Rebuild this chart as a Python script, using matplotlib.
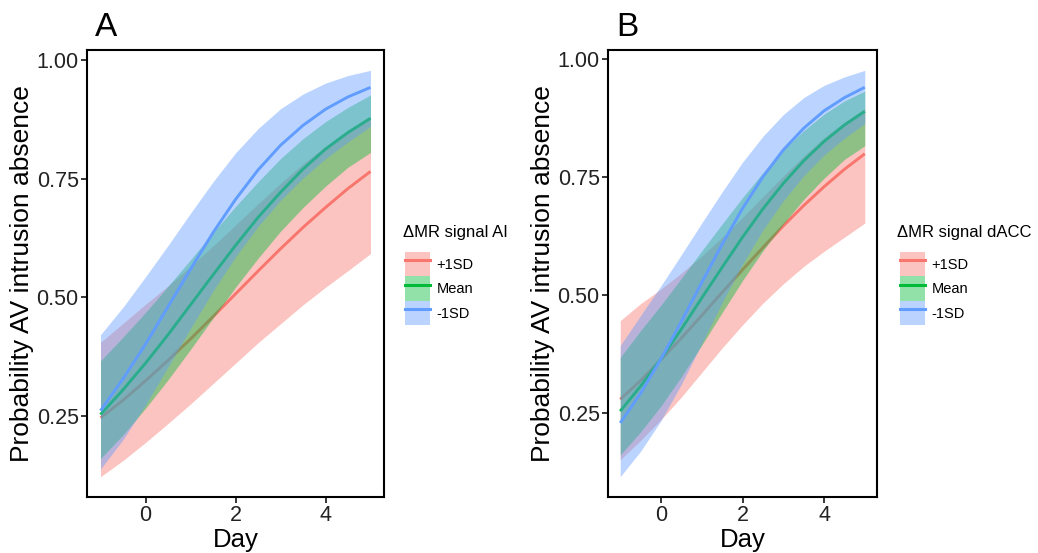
import matplotlib
matplotlib.use("Agg")
import matplotlib.pyplot as plt
from matplotlib.patches import Patch
from matplotlib.lines import Line2D

plt.rcParams['font.family'] = ['Liberation Sans', 'DejaVu Sans']

# predicted probabilities at these days
day = [-1.0, -0.5, 0.0, 0.5, 1.0, 1.5, 2.0, 2.5, 3.0, 3.5, 4.0, 4.5, 5.0]

# panel A: dMR signal AI
a_plus_fit = [0.246, 0.283, 0.324, 0.367, 0.412, 0.459, 0.507, 0.555, 0.602, 0.647, 0.689, 0.729, 0.765]
a_plus_hi = [0.405, 0.445, 0.485, 0.524, 0.565, 0.608, 0.652, 0.697, 0.740, 0.781, 0.818, 0.852, 0.880]
a_plus_lo = [0.122, 0.156, 0.194, 0.234, 0.275, 0.318, 0.361, 0.404, 0.444, 0.484, 0.521, 0.556, 0.592]
a_mean_fit = [0.253, 0.305, 0.361, 0.421, 0.484, 0.547, 0.609, 0.668, 0.721, 0.770, 0.812, 0.847, 0.877]
a_mean_hi = [0.366, 0.416, 0.468, 0.523, 0.579, 0.636, 0.691, 0.743, 0.792, 0.834, 0.870, 0.900, 0.926]
a_mean_lo = [0.160, 0.210, 0.266, 0.326, 0.390, 0.456, 0.521, 0.582, 0.639, 0.689, 0.734, 0.774, 0.805]
a_minus_fit = [0.261, 0.328, 0.401, 0.480, 0.559, 0.636, 0.706, 0.768, 0.820, 0.862, 0.896, 0.922, 0.942]
a_minus_hi = [0.421, 0.479, 0.543, 0.609, 0.677, 0.743, 0.804, 0.855, 0.897, 0.928, 0.951, 0.967, 0.978]
a_minus_lo = [0.138, 0.200, 0.273, 0.353, 0.434, 0.513, 0.585, 0.649, 0.704, 0.751, 0.792, 0.827, 0.860]

# panel B: dMR signal dACC
b_plus_fit = [0.278, 0.318, 0.362, 0.408, 0.456, 0.505, 0.553, 0.600, 0.646, 0.689, 0.729, 0.766, 0.799]
b_plus_hi = [0.445, 0.481, 0.512, 0.546, 0.582, 0.622, 0.664, 0.708, 0.752, 0.794, 0.833, 0.866, 0.895]
b_plus_lo = [0.150, 0.191, 0.235, 0.283, 0.335, 0.387, 0.436, 0.482, 0.523, 0.560, 0.592, 0.622, 0.652]
b_mean_fit = [0.253, 0.306, 0.364, 0.427, 0.493, 0.558, 0.622, 0.682, 0.736, 0.784, 0.825, 0.860, 0.889]
b_mean_hi = [0.367, 0.424, 0.478, 0.535, 0.593, 0.650, 0.706, 0.759, 0.807, 0.848, 0.883, 0.911, 0.932]
b_mean_lo = [0.160, 0.209, 0.264, 0.326, 0.393, 0.462, 0.530, 0.593, 0.650, 0.702, 0.747, 0.787, 0.816]
b_minus_fit = [0.228, 0.291, 0.364, 0.443, 0.526, 0.607, 0.683, 0.750, 0.807, 0.853, 0.890, 0.918, 0.940]
b_minus_hi = [0.392, 0.456, 0.519, 0.585, 0.652, 0.718, 0.781, 0.836, 0.882, 0.918, 0.944, 0.962, 0.976]
b_minus_lo = [0.114, 0.168, 0.233, 0.310, 0.396, 0.483, 0.565, 0.637, 0.699, 0.752, 0.796, 0.832, 0.863]

groups = ['+1SD', 'Mean', '-1SD']
colors = ['#F8766D', '#00BA38', '#619CFF']
y_ticks = [0.25, 0.50, 0.75, 1.00]
x_ticks = [0, 2, 4]

W, H = 1038, 553
fig = plt.figure(figsize=(W / 100, H / 100), dpi=100)


def panel(left, right, fits, his, los, letter, legend_title, leg_x, key_x):
    ax = fig.add_axes([left / W, 1 - 497 / H, (right - left) / W, (497 - 50) / H])
    z = 1
    for fit, hi, lo, c in zip(fits, his, los, colors):
        ax.fill_between(day, lo, hi, color=c, alpha=0.43, linewidth=0, zorder=z)
        ax.plot(day, fit, color=c, lw=2.1, zorder=z + 1, solid_capstyle='butt')
        z += 2
    ymin = min(min(l) for l in los)
    ymax = max(max(h) for h in his)
    pad = 0.05 * (ymax - ymin)
    ax.set_ylim(ymin - pad, ymax + pad)
    ax.set_xlim(-1.3, 5.3)
    ax.set_xticks(x_ticks)
    ax.set_yticks(y_ticks)
    ax.set_yticklabels(['%.2f' % t for t in y_ticks])
    ax.tick_params(labelsize=15.5, length=4, width=1.1, color='black', labelcolor='#222222', pad=2)
    for s in ax.spines.values():
        s.set_linewidth(1.5)
        s.set_color('black')
    ax.set_xlabel('Day', fontsize=18.5, labelpad=1)
    ax.set_ylabel('Probability AV intrusion absence', fontsize=19, labelpad=2)

    fig.text((left + 8) / W, 1 - 12 / H, letter, fontsize=24, va='top', ha='left')

    fig.text(leg_x / W, 1 - 233 / H, legend_title, fontsize=12, va='center', ha='left')
    handles = [(Patch(facecolor=c, alpha=0.43, linewidth=0), Line2D([], [], color=c, lw=2.2))
               for c in colors]
    fig.legend(handles, groups, loc='upper left', bbox_to_anchor=(key_x / W, 1 - 252 / H),
               bbox_transform=fig.transFigure, frameon=False, borderpad=0, borderaxespad=0,
               handlelength=1.7, handleheight=2.2, labelspacing=0, handletextpad=0.45,
               fontsize=10.5)
    return ax


panel(87, 384, [a_plus_fit, a_mean_fit, a_minus_fit], [a_plus_hi, a_mean_hi, a_minus_hi],
      [a_plus_lo, a_mean_lo, a_minus_lo], 'A', '\u0394MR signal AI', 403, 405)
panel(608, 877, [b_plus_fit, b_mean_fit, b_minus_fit], [b_plus_hi, b_mean_hi, b_minus_hi],
      [b_plus_lo, b_mean_lo, b_minus_lo], 'B', '\u0394MR signal dACC', 897, 900)

fig.savefig('out.png', dpi=100)
